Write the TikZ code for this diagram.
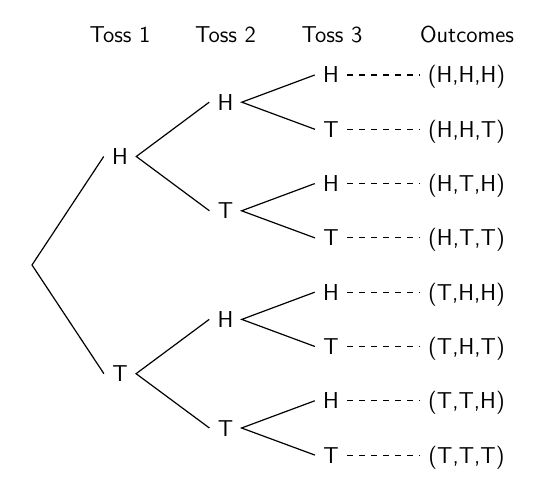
\documentclass[tikz,border=0pt]{standalone}
\usepackage{tikz}

\newcommand\tossfont{\sffamily\fontsize{11.5}{14}\selectfont}

\begin{document}
\begin{tikzpicture}[x=0.5pt,y=0.5pt,
  toss/.style={font=\tossfont, inner sep=4pt, text height=8pt, text depth=0pt},
  header/.style={font=\tossfont, anchor=base},
  branch/.style={line width=0.6pt},
  link/.style={line width=0.6pt, dashed}]
\useasboundingbox (0,0) rectangle (540,-491);
% column headings
\node[header] (head1) at (120,-43) {Toss 1};
\node[header] (head2) at (225.5,-43) {Toss 2};
\node[header] (head3) at (332,-43) {Toss 3};
\node[header] (headout) at (467,-43) {Outcomes};
% toss 1
\coordinate (root) at (32,-265);
\node[toss] (h) at (120,-156.5) {H};
\node[toss] (t) at (120,-373.7) {T};
% toss 2
\node[toss] (hh) at (225.5,-102.2) {H};
\node[toss] (ht) at (225.5,-210.8) {T};
\node[toss] (th) at (225.5,-319.4) {H};
\node[toss] (tt) at (225.5,-428) {T};
% toss 3
\node[toss] (hhh) at (331,-75) {H};
\node[toss] (hht) at (331,-129.3) {T};
\node[toss] (hth) at (331,-183.6) {H};
\node[toss] (htt) at (331,-237.9) {T};
\node[toss] (thh) at (331,-292.2) {H};
\node[toss] (tht) at (331,-346.5) {T};
\node[toss] (tth) at (331,-400.8) {H};
\node[toss] (ttt) at (331,-455.1) {T};
% outcomes
\node[toss] (ohhh) at (466.5,-75) {(H,H,H)};
\node[toss] (ohht) at (466.5,-129.3) {(H,H,T)};
\node[toss] (ohth) at (466.5,-183.6) {(H,T,H)};
\node[toss] (ohtt) at (466.5,-237.9) {(H,T,T)};
\node[toss] (othh) at (466.5,-292.2) {(T,H,H)};
\node[toss] (otht) at (466.5,-346.5) {(T,H,T)};
\node[toss] (otth) at (466.5,-400.8) {(T,T,H)};
\node[toss] (ottt) at (466.5,-455.1) {(T,T,T)};
% branches
\draw[branch] (h.west) -- (root) -- (t.west);
\draw[branch] (hh.west) -- (h.east) -- (ht.west);
\draw[branch] (th.west) -- (t.east) -- (tt.west);
\draw[branch] (hhh.west) -- (hh.east) -- (hht.west);
\draw[branch] (hth.west) -- (ht.east) -- (htt.west);
\draw[branch] (thh.west) -- (th.east) -- (tht.west);
\draw[branch] (tth.west) -- (tt.east) -- (ttt.west);
% dashed links to outcomes
\draw[link] (hhh.east) -- (ohhh.west);
\draw[link] (hht.east) -- (ohht.west);
\draw[link] (hth.east) -- (ohth.west);
\draw[link] (htt.east) -- (ohtt.west);
\draw[link] (thh.east) -- (othh.west);
\draw[link] (tht.east) -- (otht.west);
\draw[link] (tth.east) -- (otth.west);
\draw[link] (ttt.east) -- (ottt.west);
\end{tikzpicture}
\end{document}
